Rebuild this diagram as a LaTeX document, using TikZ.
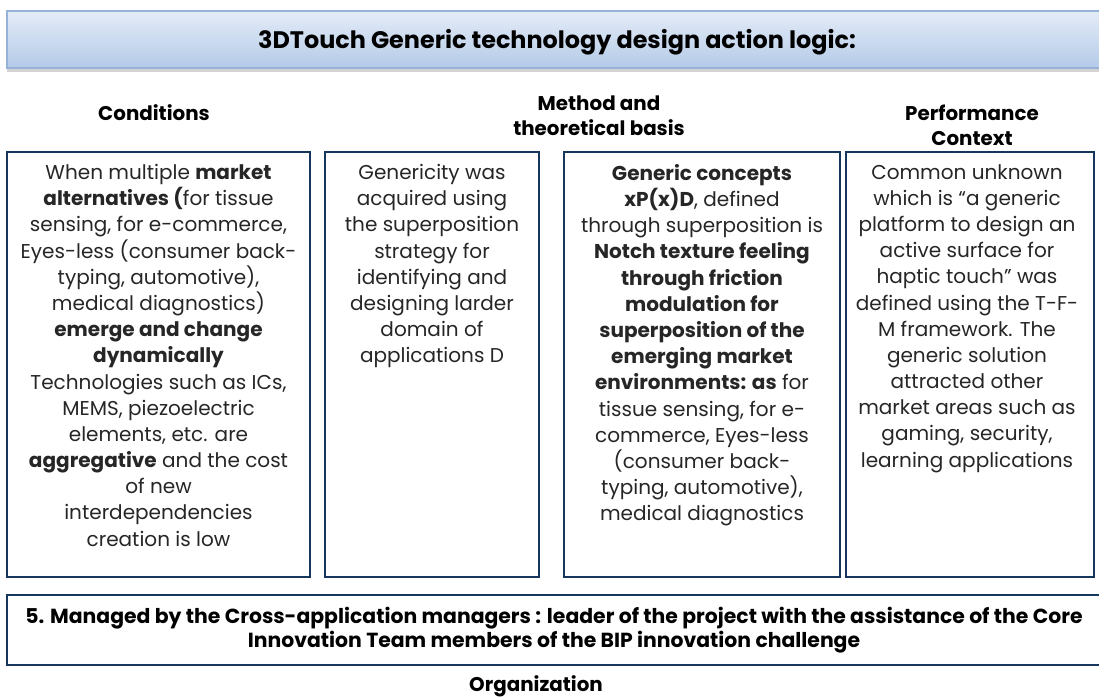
\documentclass[tikz,border=0pt]{standalone}
\usepackage{fontspec}
\setmainfont{Poppins}
\usetikzlibrary{positioning, shadows}

\definecolor{boxnavy}{RGB}{23,54,93}
\definecolor{barlight}{RGB}{228,236,247}
\definecolor{bardark}{RGB}{180,202,232}
\definecolor{barline}{RGB}{150,178,214}
\definecolor{inktext}{RGB}{38,38,38}

\newlength{\pxu}
\setlength{\pxu}{0.02cm}

\tikzset{
  titlebar/.style={rectangle, draw=barline, line width=0.8pt, top color=barlight, bottom color=bardark, drop shadow={shadow xshift=0pt, shadow yshift=-2pt, opacity=0.35}},
  titletext/.style={font=\fontsize{13.6}{16}\selectfont\bfseries, text=black},
  colbox/.style={rectangle, draw=boxnavy, line width=1.5pt, fill=white},
  colhead/.style={align=center, font=\fontsize{11.3}{14}\selectfont\bfseries, text=black},
  coltext/.style={align=center, anchor=north, font=\fontsize{11.4}{14.9}\selectfont, text=inktext, inner sep=0pt},
  orgbox/.style={rectangle, draw=boxnavy, line width=1.5pt, align=center, font=\fontsize{11.6}{13.7}\selectfont\bfseries, text=black}
}

\begin{document}
\begin{tikzpicture}[x=0.02cm, y=-0.02cm]
  \useasboundingbox (0,0) rectangle (1099,697);

  % Barra del titulo
  \node[titlebar, minimum width=1100\pxu, minimum height=57\pxu] (title) at (557,39.5) {};
  \node[titletext] (titlelbl) at (557,42) {3DTouch Generic technology design action logic:};

  % Encabezados de columna
  \node[colhead] (hcond) at (154,113) {Conditions};
  \node[colhead] (hmeth) at (599,115.5) {Method and\\theoretical basis};
  \node[colhead] (hperf) at (972,125) {Performance\\Context};

  % Cajas de las columnas
  \node[colbox, minimum width=303\pxu, minimum height=425\pxu] (cond) at (158.5,364.5) {};
  \node[colbox, minimum width=214\pxu, minimum height=425\pxu] (meth) at (432,364.5) {};
  \node[colbox, minimum width=276\pxu, minimum height=425\pxu] (conc) at (702,364.5) {};
  \node[colbox, minimum width=248\pxu, minimum height=425\pxu] (perf) at (970,364.5) {};

  % Textos de las cajas
  \node[coltext] (condtxt) at (158.5,164) {When multiple \textbf{market}\\
    \textbf{alternatives (}for tissue\\
    sensing, for e-commerce,\\
    Eyes-less (consumer back-\\
    typing, automotive),\\
    medical diagnostics)\\
    \textbf{emerge and change}\\
    \textbf{dynamically}\\
    Technologies such as ICs,\\
    MEMS, piezoelectric\\
    elements, etc. are\\
    \textbf{aggregative} and the cost\\
    of new\\
    interdependencies\\
    creation is low};
  \node[coltext] (methtxt) at (432,164) {Genericity was\\acquired using\\the superposition\\strategy for\\identifying and\\designing larder\\domain of\\applications D};
  \node[coltext] (conctxt) at (702,164) {\textbf{Generic concepts}\\
    \textbf{xP(x)D}, defined\\
    through superposition is\\
    \textbf{Notch texture feeling}\\
    \textbf{through friction}\\
    \textbf{modulation for}\\
    \textbf{superposition of the}\\
    \textbf{emerging market}\\
    \textbf{environments: as} for\\
    tissue sensing, for e-\\
    commerce, Eyes-less\\
    (consumer back-\\
    typing, automotive),\\
    medical diagnostics};
  \node[coltext] (perftxt) at (967,164) {Common unknown\\
    which is “a generic\\
    platform to design an\\
    active surface for\\
    haptic touch” was\\
    defined using the T-F-\\
    M framework. The\\
    generic solution\\
    attracted other\\
    market areas such as\\
    gaming, security,\\
    learning applications};

  % Caja de la organizacion
  \node[orgbox, minimum width=1094\pxu, minimum height=70\pxu] (org) at (554,630) {5. Managed by the Cross-application managers : leader of the project with the assistance of the Core\\Innovation Team members of the BIP innovation challenge};
  \node[colhead] (horg) at (536,686) {Organization};

\end{tikzpicture}
\end{document}
